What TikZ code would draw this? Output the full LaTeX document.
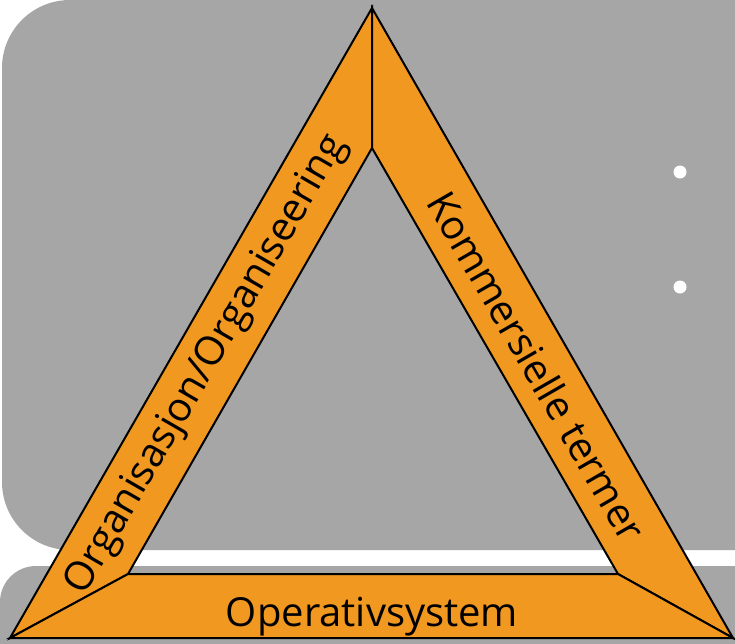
\documentclass[tikz,border=0pt]{standalone}
\usepackage{fontspec}
\setmainfont{Open Sans}
\definecolor{panelgray}{RGB}{166,166,166}
\definecolor{bandorange}{RGB}{240,152,32}
\tikzset{band/.style={fill=bandorange,draw=black,line width=2pt,line join=miter},
         bandtext/.style={font=\fontsize{40}{48}\selectfont,inner sep=0pt},
         bullet/.style={circle,fill=white,minimum size=13pt,inner sep=0pt}}

\begin{document}
\begin{tikzpicture}[x=1pt,y=-1pt]
\useasboundingbox (0,0) rectangle (735,643);
\clip (0,0) rectangle (735,643);
\fill[white] (0,0) rectangle (735,643);
% panels behind
\fill[panelgray,rounded corners=68pt] (2,0) rectangle (820,550);
\fill[panelgray,rounded corners=36pt] (0,566) rectangle (820,720);
\node[bullet] (dotA) at (680,172) {};
\node[bullet] (dotB) at (680,287) {};
% triangle corners
\coordinate (top) at (372,8);
\coordinate (left) at (10,638);
\coordinate (right) at (733,638);
\coordinate (itop) at (372,148);
\coordinate (ileft) at (128,574);
\coordinate (iright) at (618,574);
\draw[band] (left) -- (top) -- (itop) -- (ileft) -- cycle;
\draw[band] (top) -- (right) -- (iright) -- (itop) -- cycle;
\draw[band] (left) -- (ileft) -- (iright) -- (right) -- cycle;
\node[bandtext,rotate=60] (org) at (207,365) {Organisasjon/Organiseering};
\node[bandtext,rotate=-60] (komm) at (537,366) {Kommersielle termer};
\node[bandtext,anchor=base] (ops) at (372,626) {Operativsystem};
\end{tikzpicture}
\end{document}
